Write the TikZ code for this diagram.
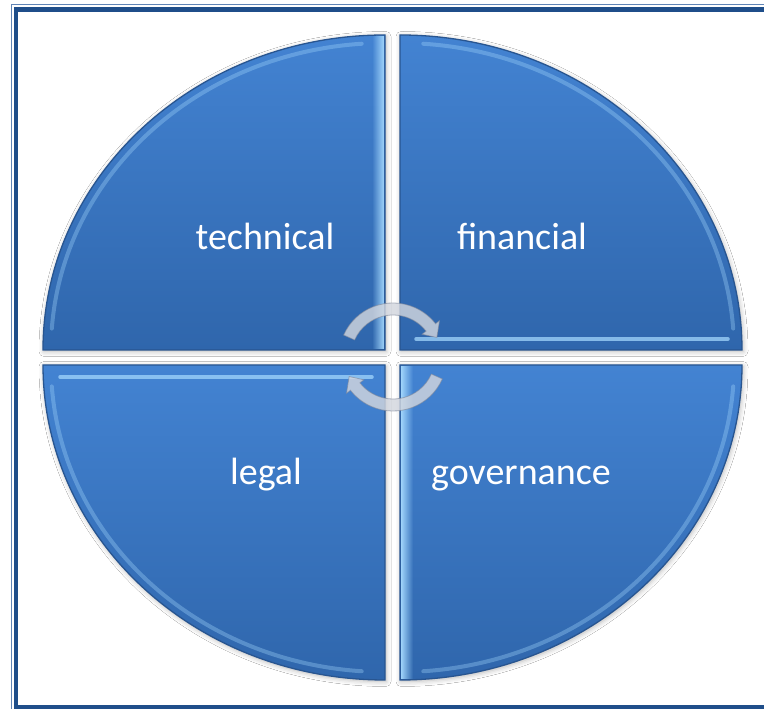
\documentclass[tikz,border=0pt]{standalone}
\usepackage{fontspec}
\setmainfont{Carlito}
\usetikzlibrary{shadows.blur,fadings}

\definecolor{frameblue}{HTML}{1F4E8A}
\definecolor{framethin}{HTML}{5F84B6}
\definecolor{segtop}{HTML}{4383D2}
\definecolor{segbot}{HTML}{2F66AC}
\definecolor{segrim}{HTML}{285590}
\definecolor{seglight}{HTML}{A2D6FC}
\definecolor{cyclefill}{HTML}{D2D6DE}
\definecolor{cycleedge}{HTML}{7E879A}

% soft bevel strips: opaque on the named side, transparent on the other
\tikzfading[name=glowright, left color=transparent!100, right color=transparent!0]
\tikzfading[name=glowleft, left color=transparent!0, right color=transparent!100]

\tikzset{
  segment/.style={top color=segtop, bottom color=segbot, draw=segrim, line width=1.3pt,
    blur shadow={shadow xshift=1pt, shadow yshift=-1.5pt, shadow blur radius=5pt, shadow opacity=30}},
  rimlight/.style={draw=seglight, line width=4pt, opacity=0.35, line cap=round},
  edgelight/.style={draw=seglight, line width=3.5pt, opacity=0.75, line cap=round},
  seglabel/.style={font=\fontsize{38}{40}\selectfont, text=white, anchor=base},
  cyclearrow/.style={fill=cyclefill, fill opacity=0.82, draw=cycleedge, draw opacity=0.6, line width=0.8pt},
}

\begin{document}
\begin{tikzpicture}[x=1pt, y=1pt]
\useasboundingbox (0,0) rectangle (764,709);
\clip (0,0) rectangle (764,709);
\fill[white] (0,0) rectangle (764,709);

% page frame: thin outer rule and heavy inner rule
\draw[framethin, line width=1pt] (11.5,-10) rectangle (800,704);
\draw[frameblue, line width=4.6pt] (16,2) rectangle (800,699.5);

% four quarter-ellipse segments
\path[segment] (385,359) -- (43,359) arc[start angle=180, end angle=90, x radius=342pt, y radius=315pt] -- cycle;
\path[segment] (400,359) -- (400,674) arc[start angle=90, end angle=0, x radius=342pt, y radius=315pt] -- cycle;
\path[segment] (385,344) -- (385,29) arc[start angle=270, end angle=180, x radius=342pt, y radius=315pt] -- cycle;
\path[segment] (400,344) -- (742,344) arc[start angle=0, end angle=-90, x radius=342pt, y radius=315pt] -- cycle;

% bevel highlights inside the curved rims
\begin{scope}[shift={(385,359)}]
  \draw[rimlight] (176:334pt and 307pt) arc[start angle=176, end angle=94, x radius=334pt, y radius=307pt];
  \fill[seglight, path fading=glowright] (-13,0.7) rectangle (-0.7,314);
\end{scope}
\begin{scope}[shift={(400,359)}]
  \draw[rimlight] (86:334pt and 307pt) arc[start angle=86, end angle=4, x radius=334pt, y radius=307pt];
  \draw[edgelight] (16,11) -- (328,11);
\end{scope}
\begin{scope}[shift={(385,344)}]
  \draw[rimlight] (-94:334pt and 307pt) arc[start angle=-94, end angle=-176, x radius=334pt, y radius=307pt];
  \draw[edgelight] (-325,-12) -- (-13,-12);
\end{scope}
\begin{scope}[shift={(400,344)}]
  \draw[rimlight] (-4:334pt and 307pt) arc[start angle=-4, end angle=-86, x radius=334pt, y radius=307pt];
  \fill[seglight, path fading=glowleft] (0.7,-314) rectangle (13,-0.7);
\end{scope}

% segment captions
\node[seglabel] (tech) at (265,459) {technical};
\node[seglabel] (fin)  at (522,459) {financial};
\node[seglabel] (leg)  at (266,224) {legal};
\node[seglabel] (gov)  at (521,224) {governance};

% circular arrows in the middle
\begin{scope}[shift={(393,352)}]
  \path[cyclearrow] (156:54pt) arc[start angle=156, end angle=38, radius=54pt]
    -- (38:59pt) -- (24:48pt) -- (38:37pt) -- (38:42pt)
    arc[start angle=38, end angle=156, radius=42pt] -- cycle;
  \path[cyclearrow] (-24:54pt) arc[start angle=-24, end angle=-142, radius=54pt]
    -- (-142:59pt) -- (-156:48pt) -- (-142:37pt) -- (-142:42pt)
    arc[start angle=-142, end angle=-24, radius=42pt] -- cycle;
\end{scope}
\end{tikzpicture}
\end{document}
